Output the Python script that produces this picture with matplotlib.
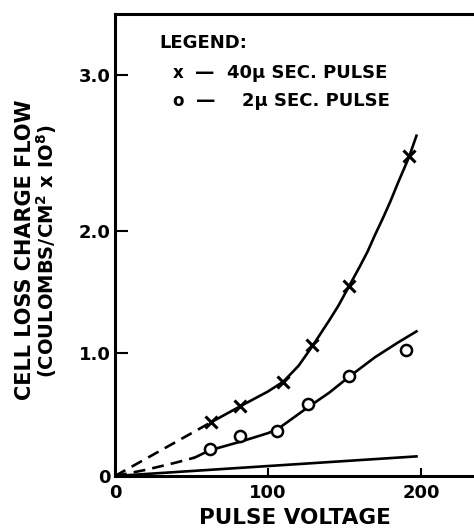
import numpy as np
import matplotlib.pyplot as plt

# measured points, 40 micro-sec pulse (x markers)
v_40 = [63, 82, 110, 129, 153, 192]
q_40 = [0.44, 0.57, 0.77, 1.07, 1.55, 2.48]
# measured points, 2 micro-sec pulse (circles)
v_2 = [62, 82, 106, 126, 153, 190]
q_2 = [0.22, 0.33, 0.37, 0.59, 0.82, 1.03]

# drawn curves
c40_dash_v = [0, 63]
c40_dash_q = [0, 0.44]
c40_v = [63, 82, 100, 110, 120, 129, 140, 146, 153, 160, 165, 170, 175, 180, 185, 192, 197]
c40_q = [0.44, 0.57, 0.69, 0.77, 0.90, 1.06, 1.27, 1.39, 1.55, 1.71, 1.83, 1.97, 2.08, 2.19,
         2.31, 2.47, 2.61]

c2_dash_v = [0, 20, 40, 52]
c2_dash_q = [0, 0.05, 0.11, 0.15]
c2_v = [52, 62, 82, 100, 106, 126, 140, 153, 170, 185, 197]
c2_q = [0.15, 0.21, 0.28, 0.35, 0.38, 0.56, 0.68, 0.81, 0.97, 1.09, 1.18]

low_v = [0, 197]
low_q = [0, 0.16]

x_ticks = [0, 100, 200]
x_tick_labels = ['0', '100', '200']
y_ticks = [0, 1, 2, 3]
y_tick_labels = ['0', '1.0', '2.0', '3.0']

# the original axis is stretched above 2.0
k = 156 / 122.5


def fwd(y):
    y = np.asarray(y, dtype=float)
    return np.where(y <= 2, y, 2 + (y - 2) * k)


def inv(y):
    y = np.asarray(y, dtype=float)
    return np.where(y <= 2, y, 2 + (y - 2) / k)


plt.rcParams['font.family'] = 'DejaVu Sans'
plt.rcParams['font.weight'] = 'bold'

fig = plt.figure(figsize=(4.74, 5.29), dpi=100)
ax = fig.add_axes([115 / 474, 1 - 476 / 529, 1 - 115 / 474, (476 - 14) / 529])
ax.set_yscale('function', functions=(fwd, inv))

lw = 1.9
dash = (0, (4.5, 2.7))
ax.plot(c40_dash_v, c40_dash_q, color='black', lw=lw, ls=dash)
ax.plot(c40_v, c40_q, color='black', lw=lw)
ax.plot(c2_dash_v, c2_dash_q, color='black', lw=lw, ls=dash)
ax.plot(c2_v, c2_q, color='black', lw=lw)
ax.plot(low_v, low_q, color='black', lw=lw)

ax.plot(v_40, q_40, ls='none', marker='x', ms=8, mew=2.2, color='black')
ax.plot(v_2, q_2, ls='none', marker='o', ms=8, mew=1.8, mfc='white', mec='black')

ax.set_xlim(0, 234.6)
ax.set_ylim(0, 3.39)

ax.spines['right'].set_visible(False)
for s in ['left', 'bottom', 'top']:
    ax.spines[s].set_linewidth(2.2)

ax.set_xticks(x_ticks)
ax.set_xticklabels(x_tick_labels)
ax.set_yticks(y_ticks)
ax.set_yticklabels(y_tick_labels)
ax.tick_params(axis='x', direction='in', length=6, width=1.5, pad=6, labelsize=13)
ax.tick_params(axis='y', direction='in', length=9, width=1.5, pad=3, labelsize=13)
ax.minorticks_off()

ax.set_xlabel('PULSE VOLTAGE', fontsize=15.5, fontweight='bold', labelpad=4)

fig.text(25 / 474, 1 - 250 / 529, 'CELL LOSS CHARGE FLOW', rotation=90,
         ha='center', va='center', fontsize=15, fontweight='bold')
fig.text(47 / 474, 1 - 251 / 529, r'(COULOMBS/CM$^\mathbf{2}$ x IO$^\mathbf{8}$)', rotation=90,
         ha='center', va='center', fontsize=14, fontweight='bold')

# legend lettering
fig.text(159 / 474, 1 - 43 / 529, 'LEGEND:', ha='left', va='center', fontsize=13, fontweight='bold')
fig.text(178 / 474, 1 - 73 / 529, 'x', ha='center', va='center', fontsize=12, fontweight='bold')
fig.text(205 / 474, 1 - 73 / 529, '\u2014', ha='center', va='center', fontsize=14, fontweight='bold')
fig.text(227 / 474, 1 - 73 / 529, '40\u00b5 SEC. PULSE', ha='left', va='center', fontsize=13, fontweight='bold')
fig.text(178 / 474, 1 - 101 / 529, 'o', ha='center', va='center', fontsize=12, fontweight='bold')
fig.text(206 / 474, 1 - 101 / 529, '\u2014', ha='center', va='center', fontsize=14, fontweight='bold')
fig.text(242 / 474, 1 - 101 / 529, '2\u00b5 SEC. PULSE', ha='left', va='center', fontsize=13, fontweight='bold')

fig.savefig('out.png', dpi=100)
